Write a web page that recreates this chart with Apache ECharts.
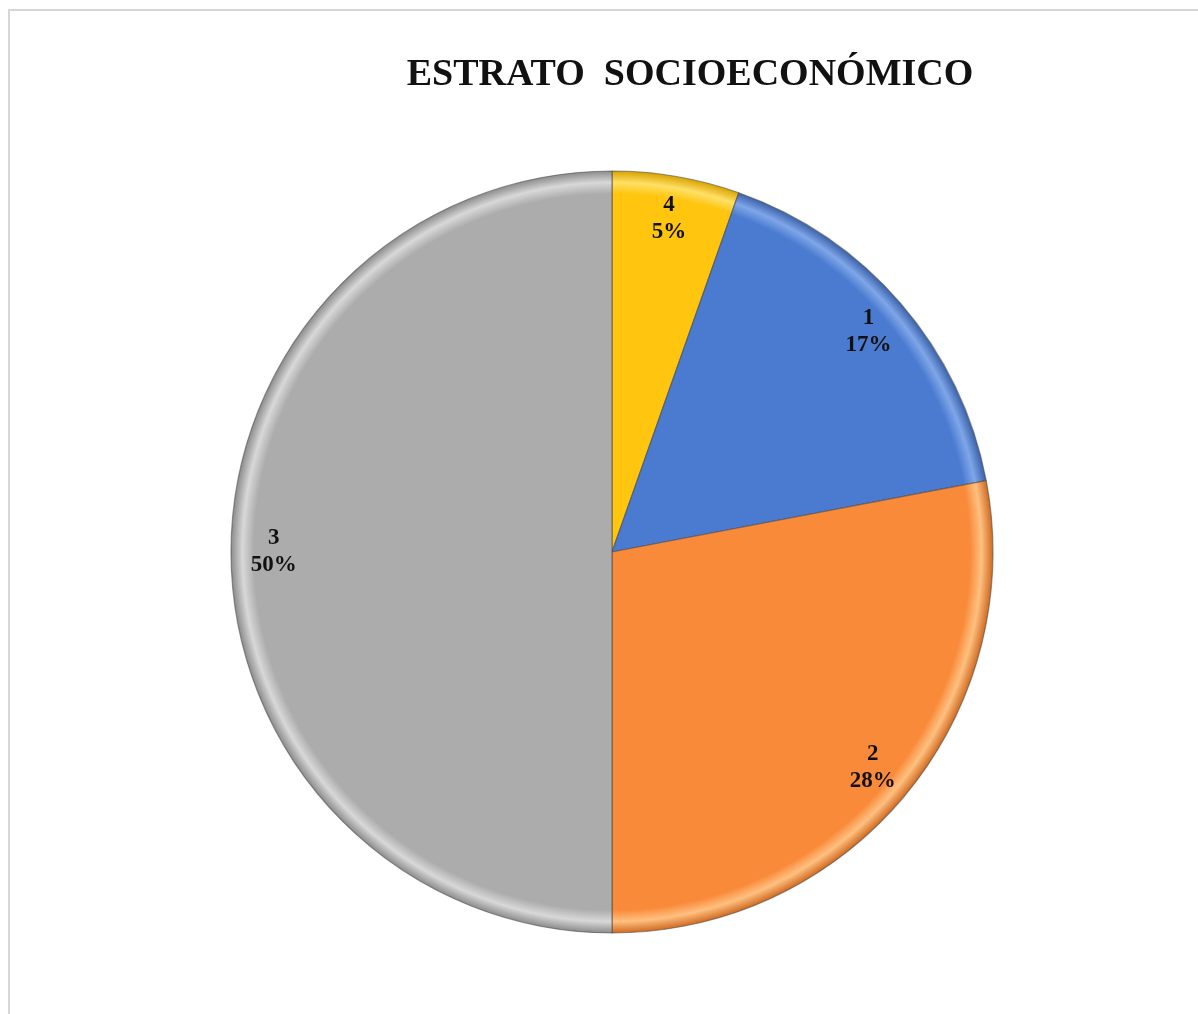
<!DOCTYPE html>
<html>
<head>
<meta charset="utf-8">
<title>Estrato socioeconómico</title>
<script src="https://cdn.jsdelivr.net/npm/echarts@6/dist/echarts.min.js"></script>
<style>
  html, body { margin: 0; padding: 0; background: #fff; }
  #chart { width: 1198px; height: 1014px; }
</style>
</head>
<body>
<div id="chart"></div>
<script>
// datos del gráfico (en sentido horario desde arriba)
const estratos = ['4', '1', '2', '3']
const porcentajes = [5.4, 16.6, 28, 50]
const colores = ['#FFC50F', '#4A7BD0', '#F98A3A', '#ACACAC']

const cx = 612, cy = 552, R = 381

// sombreado tipo bisel de Excel
const bevel = function (base, light, dark) {
  return new echarts.graphic.RadialGradient(cx, cy, R, [
    {offset: 0, color: base},
    {offset: 0.94, color: base},
    {offset: 0.97, color: light},
    {offset: 1, color: dark}
  ], true)
}
const rims = [
  ['#FFE066', '#D9A300'],
  ['#7FA6E8', '#3A62AA'],
  ['#FFC080', '#D06A20'],
  ['#D8D8D8', '#8C8C8C']
]

const chart = echarts.init(document.getElementById('chart'))

const data = estratos.map((name, i) => ({
  name: name,
  value: porcentajes[i],
  itemStyle: {color: bevel(colores[i], rims[i][0], rims[i][1])}
}))

chart.setOption({
  backgroundColor: '#fff',
  animation: false,
  title: {
    text: 'ESTRATO  SOCIOECONÓMICO',
    left: 685,
    top: 51,
    textAlign: 'center',
    textStyle: {
      fontFamily: 'Liberation Serif',
      fontWeight: 'bold',
      fontSize: 38,
      color: '#111'
    }
  },
  graphic: [
    {
      type: 'rect',
      shape: {x: 9, y: 10, width: 1400, height: 1200},
      style: {fill: 'none', stroke: '#d6d6d6', lineWidth: 2},
      silent: true
    }
  ],
  series: [
    {
      type: 'pie',
      center: [cx, cy],
      radius: [0, R],
      startAngle: 90,
      clockwise: true,
      silent: true,
      label: {show: false},
      labelLine: {show: false},
      itemStyle: {borderColor: 'rgba(70,70,70,0.55)', borderWidth: 1.2},
      data: data
    },
    {
      // serie transparente solo para colocar las etiquetas cerca del borde
      type: 'pie',
      center: [cx, cy],
      radius: [R * 0.76, R],
      startAngle: 90,
      clockwise: true,
      silent: true,
      percentPrecision: 0,
      itemStyle: {color: 'rgba(0,0,0,0)'},
      label: {
        show: true,
        position: 'inside',
        formatter: '{b}\n{d}%',
        fontFamily: 'Liberation Serif',
        fontWeight: 'bold',
        fontSize: 23,
        lineHeight: 27,
        color: '#111'
      },
      labelLine: {show: false},
      data: estratos.map((name, i) => ({name: name, value: porcentajes[i]}))
    }
  ]
})
</script>
</body>
</html>
